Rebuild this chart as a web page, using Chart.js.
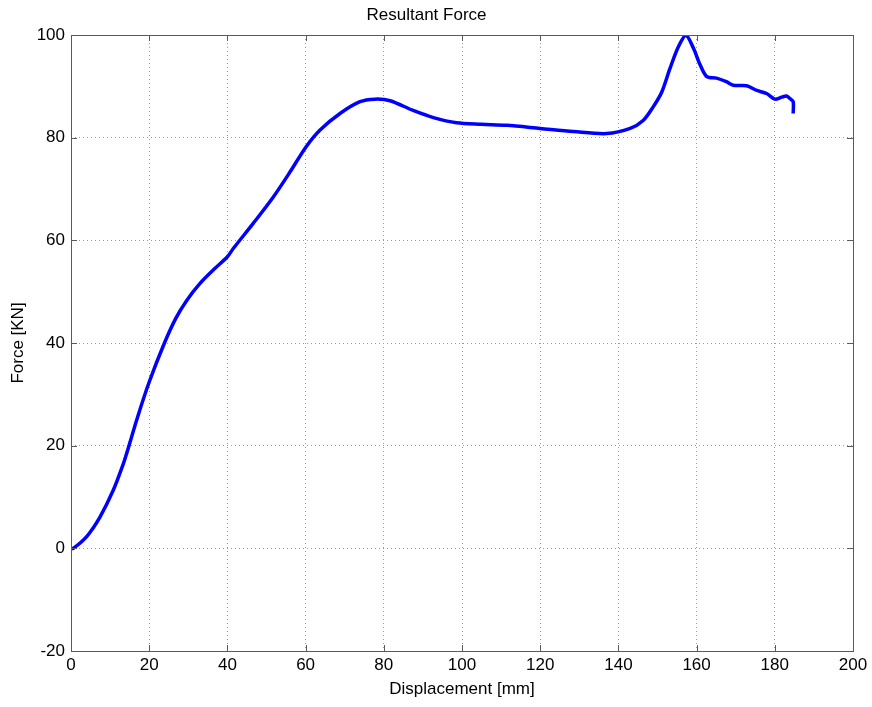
<!DOCTYPE html>
<html>
<head>
<meta charset="utf-8">
<script src="https://cdn.jsdelivr.net/npm/chart.js@4.4.0/dist/chart.umd.min.js"></script>
<style>
  html, body { margin: 0; padding: 0; background: #fff; }
  #wrap { width: 872px; height: 707px; }
</style>
</head>
<body>
<div id="wrap"><canvas id="forceChart" width="872" height="707"></canvas></div>
<script>
// displacement [mm] and resultant force [KN] samples of the curve
const displacement = [0, 0.6, 4, 7.4, 10.8, 13.4, 14.2, 17, 20, 23.9, 26.8, 29.6, 33, 36.5, 40,
  41.5, 46.6, 51.7, 56, 60.1, 63.7, 68.8, 73.9, 77.7, 81.6, 87.5, 92.7, 98.6, 105, 111.4, 120,
  128.5, 137, 143, 146.4, 148.9, 151.1, 153.2, 155.4, 157.3, 159.2, 160.9, 162.6, 165.1, 167.6,
  169.4, 172.8, 175.4, 177.9, 180, 181.8, 183, 183.9, 184.7, 184.7];
const force = [0, 0, 2.3, 6.1, 11.3, 16.5, 18.4, 25.5, 32.4, 40, 44.8, 48.3, 51.6, 54.3, 56.8,
  58.4, 63.3, 68.4, 73.3, 78.2, 81.5, 84.7, 87, 87.5, 87.2, 85.3, 83.9, 82.9, 82.6, 82.4, 81.8,
  81.2, 80.8, 81.8, 83.4, 86, 88.9, 93.5, 97.8, 99.9, 97.4, 94.2, 91.9, 91.6, 90.9,
  90.2, 90.1, 89.2, 88.6, 87.5, 87.9, 88.1, 87.6, 87, 84.7];

const xTicks = [0, 20, 40, 60, 80, 100, 120, 140, 160, 180, 200];
const yTicks = [-20, 0, 20, 40, 60, 80, 100];

const FONT = "'Liberation Sans', Arial, Helvetica, sans-serif";

// box around the plot with small inward tick marks on all four sides
const framePlugin = {
  id: "frame",
  afterDraw(chart) {
    const { ctx, chartArea: a, scales } = chart;
    const len = 6;
    ctx.save();
    ctx.strokeStyle = "#5a5a5a";
    ctx.lineWidth = 1;
    ctx.setLineDash([]);
    ctx.strokeRect(a.left + 0.5, a.top + 0.5, a.right - a.left, a.bottom - a.top);
    ctx.beginPath();
    xTicks.forEach((v) => {
      const px = Math.round(scales.x.getPixelForValue(v)) + 0.5;
      ctx.moveTo(px, a.bottom);
      ctx.lineTo(px, a.bottom - len);
      ctx.moveTo(px, a.top);
      ctx.lineTo(px, a.top + len);
    });
    yTicks.forEach((v) => {
      const py = Math.round(scales.y.getPixelForValue(v)) + 0.5;
      ctx.moveTo(a.left, py);
      ctx.lineTo(a.left + len, py);
      ctx.moveTo(a.right, py);
      ctx.lineTo(a.right - len, py);
    });
    ctx.stroke();
    ctx.restore();
  },
};

const points = displacement.map((x, i) => ({ x: x, y: force[i] }));

const ctx = document.getElementById("forceChart").getContext("2d");
new Chart(ctx, {
  type: "scatter",
  data: {
    datasets: [
      {
        label: "Resultant Force",
        data: points,
        showLine: true,
        borderColor: "#0000ff",
        backgroundColor: "#0000ff",
        borderWidth: 3.5,
        pointRadius: 0,
        tension: 0.3,
      },
    ],
  },
  options: {
    responsive: false,
    animation: false,
    layout: { padding: { left: 0, right: 19, top: 0, bottom: 0 } },
    plugins: {
      legend: { display: false },
      tooltip: { enabled: false },
      title: {
        display: true,
        text: "Resultant Force",
        color: "#000",
        font: { family: FONT, size: 17, weight: "normal" },
        padding: { top: 5, bottom: 9.6 },
      },
    },
    scales: {
      x: {
        type: "linear",
        min: 0,
        max: 200,
        afterFit(scale) {
          scale.height = 56;
        },
        afterBuildTicks(scale) {
          scale.ticks = xTicks.map((v) => ({ value: v }));
        },
        ticks: {
          color: "#000",
          padding: 4,
          maxRotation: 0,
          font: { family: FONT, size: 17 },
        },
        grid: { color: "#9a9a9a", lineWidth: 1, drawTicks: false },
        border: { display: false, dash: [1, 3] },
        title: {
          display: true,
          text: "Displacement [mm]",
          color: "#000",
          font: { family: FONT, size: 17 },
          padding: { top: 4, bottom: 7 },
        },
      },
      y: {
        type: "linear",
        min: -20,
        max: 100,
        afterFit(scale) {
          scale.width = 71;
        },
        afterBuildTicks(scale) {
          scale.ticks = yTicks.map((v) => ({ value: v }));
        },
        ticks: {
          color: "#000",
          padding: 6,
          font: { family: FONT, size: 17 },
        },
        grid: { color: "#9a9a9a", lineWidth: 1, drawTicks: false },
        border: { display: false, dash: [1, 3] },
        title: {
          display: true,
          text: "Force [KN]",
          color: "#000",
          font: { family: FONT, size: 17 },
          padding: { top: 8, bottom: 8 },
        },
      },
    },
  },
  plugins: [framePlugin],
});
</script>
</body>
</html>
